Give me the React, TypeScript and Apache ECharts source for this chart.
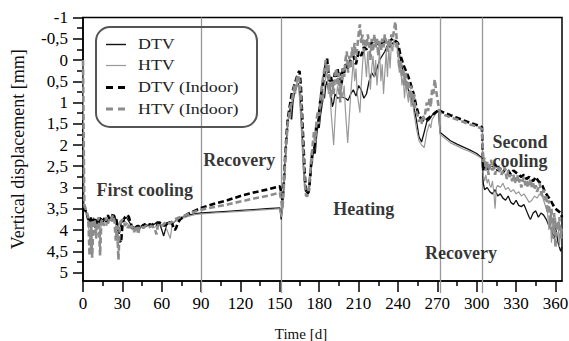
import React, { useEffect, useRef } from "react";
import * as echarts from "echarts";

const X_MIN = 0;
const X_MAX = 365;
const Y_MIN = -1;
const Y_MAX = 5.2;

const xMajorTicks = [0, 30, 60, 90, 120, 150, 180, 210, 240, 270, 300, 330, 360];
const xMinorTicks = [15, 45, 75, 105, 135, 165, 195, 225, 255, 285, 315, 345];
const yMajorTicks = [-1, -0.5, 0, 0.5, 1, 1.5, 2, 2.5, 3, 3.5, 4, 4.5, 5];
const yMinorTicks = [-0.75, -0.25, 0.25, 0.75, 1.25, 1.75, 2.25, 2.75, 3.25, 3.75, 4.25, 4.75];
const phaseBoundaries = [90, 151, 272, 304];

const seriesNames = ["DTV", "HTV", "DTV (Indoor)", "HTV (Indoor)"];

const phaseLabels = [
  { text: "First cooling", day: 47, value: 3.05 },
  { text: "Recovery", day: 119, value: 2.35 },
  { text: "Heating", day: 214, value: 3.5 },
  { text: "Recovery", day: 288, value: 4.53 },
  { text: "Second", day: 333, value: 1.93 },
  { text: "cooling", day: 333, value: 2.38 },
];

// DTV (solid black)
const dtv: [number, number][] = [
  [0, 3.45], [2, 3.55], [4, 3.7], [5, 3.85], [6, 3.7], [8, 3.8], [9, 3.95], [10, 3.75], [12, 3.85], [13, 3.7],
  [15, 3.8], [17, 3.75], [19, 3.85], [20, 3.7], [22, 3.8], [24, 3.65], [25, 3.75], [27, 3.95], [28, 4.05], [29, 3.85],
  [31, 3.75], [33, 3.7], [35, 3.8], [37, 3.9], [39, 3.95], [41, 3.9], [43, 3.97], [45, 3.9], [47, 3.85], [49, 3.9],
  [51, 3.85], [53, 3.88], [55, 3.85], [57, 3.8], [59, 3.9], [61.5, 4.14], [64, 3.85], [66, 3.8], [68, 3.85], [70, 3.8],
  [73, 3.72], [76, 3.7], [80, 3.65], [85, 3.62], [90, 3.6],
  [100, 3.58], [110, 3.56], [120, 3.54], [130, 3.52], [140, 3.5], [150, 3.48],
  [151, 3.75], [152, 3.5], [153, 3.0], [154, 2.4], [155, 1.9], [156, 1.5], [157, 1.3], [158, 1.1], [159, 1.4], [160, 1.0],
  [161, 0.8], [162, 0.7], [163, 0.6], [164, 0.55], [165, 0.7], [166, 1.2], [167, 1.8], [168, 2.5], [169, 3.0], [170, 3.1],
  [171, 3.15], [172, 3.1], [173, 2.9], [174, 2.5], [175, 2.3], [176, 2.0], [177, 2.2], [178, 1.8], [179, 1.5], [180, 1.6],
  [181, 1.3], [182, 1.1], [183, 0.8], [184, 0.9], [185, 0.6], [186, 0.5], [187, 0.7], [188, 0.6], [189, 0.8], [190, 1.1],
  [191, 1.0], [192, 0.8], [194, 0.9], [196, 0.88], [198, 0.88], [200, 0.9], [202, 0.95], [204, 0.8], [206, 0.7], [208, 0.85],
  [210, 0.6], [212, 0.7], [214, 0.9], [216, 0.8], [218, 0.5], [220, 0.3], [222, 0.4], [224, 0.2], [226, 0.0], [228, -0.1],
  [230, -0.2], [232, -0.35], [234, -0.3], [236, -0.4], [238, -0.45], [240, -0.3], [242, 0.0], [244, 0.3], [246, 0.5], [248, 0.7],
  [250, 0.9], [252, 1.1], [254, 1.4], [256, 1.8], [258, 1.93], [260, 1.7], [262, 1.45], [264, 1.4], [266, 1.3], [268, 1.25],
  [270, 1.2], [271, 1.24],
  [272, 1.7], [276, 1.8], [280, 1.9], [285, 1.98], [290, 2.05], [295, 2.12], [300, 2.2], [304, 2.3],
  [305, 2.9], [306, 3.05], [308, 3.0], [310, 3.1], [312, 3.15], [314, 3.05], [316, 3.2], [318, 3.15], [320, 3.25], [322, 3.3],
  [324, 3.2], [326, 3.35], [328, 3.4], [330, 3.3], [332, 3.42], [334, 3.45], [336, 3.4], [338, 3.55], [340, 3.7], [341, 3.75],
  [343, 3.6], [345, 3.55], [347, 3.7], [349, 3.6], [351, 3.65], [353, 3.75], [355, 3.9], [357, 4.0], [359, 4.2], [360, 3.9],
  [362, 4.3], [364, 4.5], [365, 4.4],
];

// HTV (solid grey)
const htv: [number, number][] = [
  [0, 0.0], [1, 3.5], [2, 3.6], [3, 3.7], [4, 3.8], [5, 4.2], [6, 4.5], [7, 3.8], [8, 3.7], [9, 3.9], [10, 4.2],
  [11, 3.8], [12, 3.75], [13, 4.3], [14, 3.8], [16, 3.7], [18, 3.9], [20, 3.75], [22, 3.8], [24, 3.7], [25, 3.9],
  [26, 4.3], [27, 4.0], [28, 3.8], [30, 3.75], [32, 3.8], [34, 3.85], [36, 3.95], [38, 4.0], [40, 3.95], [42, 4.0],
  [44, 3.9], [46, 3.95], [48, 3.9], [50, 3.85], [52, 3.9], [54, 3.95], [56, 3.9], [58, 3.85], [60, 3.9], [62, 3.85],
  [64, 4.0], [66.5, 4.2], [68, 3.85], [70, 3.8], [73, 3.75], [76, 3.72], [80, 3.68], [85, 3.64], [90, 3.62],
  [100, 3.6], [120, 3.56], [140, 3.52], [150, 3.5],
  [151, 3.7], [152, 3.55], [153, 3.1], [154, 2.6], [155, 2.0], [156, 1.6], [157, 1.2], [158, 1.4], [159, 1.0], [160, 0.9],
  [161, 0.7], [162, 0.8], [163, 0.5], [164, 0.6], [165, 0.9], [166, 1.4], [167, 2.0], [168, 2.6], [169, 3.0], [170, 3.05],
  [171, 3.1], [172, 3.05], [173, 2.8], [174, 2.3], [175, 2.4], [176, 1.9], [177, 2.1], [178, 1.6], [179, 1.4], [180, 1.5],
  [181, 1.0], [182, 0.8], [183, 1.0], [184, 0.6], [185, 0.4], [186, 0.3], [187, 0.8], [188, 0.5], [189, 1.2], [190, 1.6],
  [191, 2.0], [192, 1.4], [193, 0.9], [194, 0.6], [195, 0.8], [196, 0.4], [197, 0.7], [198, 0.9], [199, 0.6], [200, 1.2],
  [201.7, 1.95], [203, 1.3], [204, 0.8], [205, 0.4], [206, 0.0], [207, 0.5], [208, 0.2], [209, 0.8], [211, 1.24], [212, 0.6],
  [213, 0.1], [214, -0.3], [215, 0.0], [216, 0.4], [217, -0.2], [218, 0.3], [219, 0.7], [220, 0.2], [221, -0.1], [222, 0.4],
  [223, 0.0], [224, 0.6], [225, 0.2], [226, -0.2], [227, 0.5], [228, 0.1], [229, 0.8], [230, 0.3], [231, -0.2], [232, 0.4],
  [233, -0.3], [234, 0.2], [235, -0.4], [236, -0.2], [237, -0.5], [238, -0.3], [239, -0.4], [240, -0.1], [241, 0.3], [242, 0.1],
  [243, 0.6], [244, 0.4], [245, 0.9], [246, 0.5], [247, 0.8], [248, 1.0], [249, 0.7], [250, 1.1], [251, 0.9], [252, 1.2],
  [254, 1.6], [256, 1.9], [258, 2.0], [260, 2.06], [262, 1.7], [264, 1.5], [265, 1.6], [266, 1.4], [268, 1.3], [270, 1.2],
  [271, 1.15],
  [272, 1.75], [276, 1.85], [280, 1.95], [285, 2.02], [290, 2.1], [295, 2.16], [300, 2.24], [304, 2.32],
  [305, 2.7], [306, 2.85], [307, 2.7], [308, 2.9], [309, 2.8], [310, 2.95], [311, 3.0], [312, 2.85], [313, 3.1], [314, 3.5],
  [315, 3.0], [316, 2.95], [318, 3.0], [320, 2.9], [322, 3.05], [324, 3.0], [326, 3.1], [328, 3.05], [330, 3.15], [332, 3.1],
  [334, 3.2], [336, 3.15], [338, 3.25], [340, 3.35], [342, 3.3], [344, 3.2], [346, 3.25], [348, 3.15], [350, 3.2], [352, 3.4],
  [354, 3.6], [355, 4.0], [356, 3.7], [357, 4.3], [358, 3.8], [359, 4.1], [360, 3.7], [361, 4.0], [362, 3.8], [363, 4.4],
  [364, 3.9], [365, 4.2],
];

// DTV (Indoor) (dashed black)
const dtvIndoor: [number, number][] = [
  [0, 3.55], [1, 3.5], [2, 3.55], [3, 3.6], [4, 3.75], [5, 3.7], [6, 3.85], [7, 3.75], [8, 3.8], [9, 3.7],
  [10, 3.9], [11, 3.8], [12, 3.75], [13, 3.85], [14, 3.7], [15, 3.8], [16, 3.75], [17, 3.7], [18, 3.8], [19, 3.65],
  [20, 3.75], [21, 3.8], [22, 3.7], [23, 3.6], [24, 3.75], [25, 3.7], [26, 3.85], [27, 4.0], [28, 4.25], [29, 4.3],
  [30, 3.9], [31, 3.75], [32, 3.7], [33, 3.68], [34, 3.65], [35, 3.7], [36, 3.8], [37, 3.9], [38, 3.95], [39, 3.9],
  [40, 3.95], [42, 3.9], [44, 3.95], [46, 3.88], [48, 3.9], [50, 3.85], [52, 3.9], [54, 3.85], [56, 3.88], [58, 3.82],
  [60, 3.85], [62, 3.9], [64, 3.85], [66, 3.8], [68, 3.85], [69, 3.95], [70, 4.0], [71, 3.95], [72, 3.85], [74, 3.75],
  [76, 3.7], [80, 3.62], [85, 3.55], [90, 3.48],
  [100, 3.38], [110, 3.3], [120, 3.2], [130, 3.12], [140, 3.05], [150, 2.97],
  [151, 3.1], [152, 3.3], [153, 2.9], [154, 2.3], [155, 1.8], [156, 1.4], [157, 1.2], [158, 1.0], [159, 0.8], [160, 0.7],
  [161, 0.6], [162, 0.5], [163, 0.4], [164, 0.3], [165, 0.26], [166, 0.6], [167, 1.3], [168, 2.0], [169, 2.7], [170, 3.1],
  [171, 3.15], [172, 3.1], [173, 2.8], [174, 2.4], [175, 2.1], [176, 2.2], [177, 1.8], [178, 1.5], [179, 1.6], [180, 1.2],
  [181, 0.9], [182, 0.7], [183, 0.5], [184, 0.3], [185, 0.1], [186, -0.03], [187, 0.3], [188, 0.5], [189, 0.4], [190, 0.6],
  [191, 0.5], [192, 0.3], [193, 0.4], [194, 0.2], [195, 0.5], [196, 0.3], [197, 0.6], [198, 0.2], [199, 0.3], [200, 0.1],
  [202, 0.2], [204, 0.0], [206, -0.1], [208, 0.1], [210, -0.2], [212, -0.1], [214, -0.3], [216, -0.25], [218, -0.35], [220, -0.4],
  [222, -0.48], [224, -0.4], [226, -0.35], [228, -0.4], [230, -0.45], [232, -0.4], [234, -0.45], [236, -0.5], [238, -0.45], [240, -0.4],
  [242, -0.1], [243, 0.0], [244, 0.1], [246, 0.25], [248, 0.4], [250, 0.6], [252, 0.8], [254, 1.1], [256, 1.3], [258, 1.4],
  [260, 1.45], [262, 1.4], [264, 1.35], [266, 1.3], [268, 1.25], [270, 1.2], [271, 1.15],
  [272, 1.2], [276, 1.25], [280, 1.3], [285, 1.36], [290, 1.42], [295, 1.48], [300, 1.53], [304, 1.58],
  [305, 2.6], [306, 2.4], [308, 2.6], [310, 2.5], [312, 2.55], [314, 2.45], [316, 2.6], [318, 2.55], [320, 2.65], [322, 2.55],
  [324, 2.6], [326, 2.7], [328, 2.6], [330, 2.65], [332, 2.7], [334, 2.75], [336, 2.7], [338, 2.8], [340, 2.75], [341, 2.8],
  [343, 2.85], [345, 2.75], [347, 2.85], [349, 2.9], [350, 2.95], [352, 3.1], [354, 3.2], [356, 3.28], [358, 3.4], [360, 3.5],
  [362, 3.55], [364, 3.6], [365, 3.7],
];

// HTV (Indoor) (dashed grey)
const htvIndoor: [number, number][] = [
  [0, 0.0], [1, 3.4], [2, 3.5], [3, 3.6], [4, 3.7], [5, 4.6], [6, 3.8], [7, 4.65], [8, 3.75], [9, 3.8],
  [10, 4.2], [11, 3.8], [12, 3.7], [13, 4.6], [14, 3.8], [15, 3.75], [16, 3.9], [17, 3.8], [18, 3.7], [19, 3.85],
  [20, 3.75], [21, 3.8], [22, 3.7], [23, 3.65], [24, 3.8], [25, 4.25], [26, 3.9], [27, 4.7], [28, 3.9], [29, 3.8],
  [30, 3.75], [31, 3.8], [32, 3.9], [33, 3.85], [34, 3.95], [35, 3.9], [36, 4.0], [37, 3.9], [38, 3.95], [39, 4.05],
  [40, 3.95], [41, 3.9], [42, 4.1], [43, 3.95], [44, 3.9], [46, 3.95], [48, 3.9], [50, 3.95], [52, 3.9], [54, 3.95],
  [55, 4.0], [56, 4.1], [57, 3.9], [58, 3.85], [60, 3.9], [62, 3.85], [64, 3.8], [66, 3.85], [68, 3.8], [70, 3.75],
  [72, 3.72], [74, 3.7], [76, 3.68], [80, 3.63], [85, 3.57], [90, 3.52],
  [100, 3.46], [110, 3.4], [120, 3.33], [130, 3.26], [140, 3.2], [150, 3.12],
  [151, 3.3], [152, 3.5], [153, 3.0], [154, 2.4], [155, 1.9], [156, 1.5], [157, 1.3], [158, 1.1], [159, 1.0], [160, 0.8],
  [161, 0.6], [162, 0.7], [163, 0.45], [164, 0.35], [165, 0.5], [166, 0.9], [167, 1.6], [168, 2.3], [169, 2.9], [170, 3.2],
  [171, 3.2], [172, 3.05], [173, 2.7], [174, 2.3], [175, 2.0], [176, 1.7], [177, 1.9], [178, 1.4], [179, 1.2], [180, 1.3],
  [181, 0.9], [182, 0.6], [183, 0.4], [184, 0.2], [185, 0.0], [186, 0.3], [187, 0.1], [188, 0.6], [189, 0.9], [190, 0.5],
  [191, 0.8], [192, 0.4], [193, 0.2], [194, 0.6], [195, 0.3], [196, 1.0], [197, 0.5], [198, 0.2], [199, 0.4], [200, 0.0],
  [201, -0.2], [202, 0.3], [203, -0.1], [204, 0.2], [205, -0.3], [206, -0.1], [207, -0.4], [208, 0.0], [209, -0.3], [210, -0.6],
  [211, -0.84], [212, -0.4], [213, -0.6], [214, -0.2], [215, -0.5], [216, -0.3], [217, -0.6], [218, -0.4], [219, 0.0], [220, -0.5],
  [221, -0.2], [222, -0.6], [223, -0.3], [224, -0.5], [225, -0.1], [226, -0.45], [227, -0.2], [228, -0.5], [229, -0.3], [230, -0.6],
  [231, -0.4], [232, -0.2], [233, -0.5], [234, -0.3], [235, -0.6], [236, -0.5], [237, -0.7], [238, -0.9], [239, -0.5], [240, -0.2],
  [241, 0.2], [242, 0.0], [243, 0.4], [244, 0.2], [245, 0.6], [246, 0.3], [247, 0.7], [248, 0.5], [249, 0.9], [250, 0.6],
  [251, 1.0], [252, 0.8], [253, 1.1], [254, 1.2], [255, 1.3], [256, 1.45], [257, 1.4], [258, 1.5], [259, 1.3], [260, 1.4],
  [261, 1.2], [262, 1.0], [263, 1.2], [264, 0.9], [265, 1.1], [266, 0.7], [267, 0.8], [268, 0.46], [269, 0.7], [270, 0.9],
  [271, 1.1], [272, 1.25],
  [276, 1.3], [280, 1.35], [285, 1.4], [290, 1.46], [295, 1.52], [300, 1.56], [304, 1.62],
  [305, 2.4], [306, 2.3], [307, 2.6], [308, 2.4], [309, 2.7], [310, 2.5], [311, 2.35], [312, 2.6], [313, 2.45], [314, 2.7],
  [315, 2.55], [316, 2.5], [317, 2.65], [318, 2.55], [319, 2.7], [320, 2.6], [321, 2.5], [322, 2.65], [323, 2.8], [324, 2.6],
  [325, 2.75], [326, 2.7], [327, 2.85], [328, 2.7], [329, 2.9], [330, 2.8], [331, 2.7], [332, 2.9], [333, 2.8], [334, 3.0],
  [335, 2.85], [336, 2.75], [337, 2.95], [338, 2.85], [339, 3.0], [340, 2.9], [341, 2.8], [342, 3.0], [343, 2.9], [344, 3.05],
  [345, 2.95], [346, 3.1], [347, 3.0], [348, 2.9], [349, 3.1], [350, 3.2], [351, 3.05], [352, 3.3], [353, 3.2], [354, 3.6],
  [355, 3.3], [356, 3.9], [357, 3.5], [358, 4.2], [359, 3.6], [360, 4.4], [361, 3.8], [362, 4.0], [363, 3.7], [364, 4.2],
  [365, 3.9],
];

const SERIF = "Liberation Serif";
const fmt = (v: number) => String(v).replace(".", ",");

export default function App() {
  const ref = useRef<HTMLDivElement>(null);

  useEffect(() => {
    if (!ref.current) return;
    const chart = echarts.init(ref.current, undefined, { renderer: "svg" });

    const legendItems = [
      { name: seriesNames[0], color: "#111", width: 1.4, dash: null as null | number[] },
      { name: seriesNames[1], color: "#999", width: 1.2, dash: null },
      { name: seriesNames[2], color: "#000", width: 3, dash: [7, 5] },
      { name: seriesNames[3], color: "#8c8c8c", width: 3, dash: [7, 5] },
    ];
    const legendY = [44.5, 65.5, 87.5, 109];

    const graphics: any[] = [
      {
        type: "rect",
        shape: { x: 96, y: 27, width: 161, height: 100, r: 14 },
        style: { fill: "none", stroke: "#555", lineWidth: 2 },
        z: 10,
      },
    ];
    legendItems.forEach((it, i) => {
      graphics.push({
        type: "line",
        shape: { x1: 106, y1: legendY[i], x2: 126, y2: legendY[i] },
        style: { stroke: it.color, lineWidth: it.width, lineDash: it.dash || undefined },
        z: 10,
      });
      graphics.push({
        type: "text",
        x: 138,
        y: legendY[i],
        scaleX: 1.28,
        style: {
          text: it.name,
          fontFamily: SERIF,
          fontSize: 14,
          fill: "#222",
          align: "left",
          verticalAlign: "middle",
        },
        z: 10,
      });
    });

    graphics.push({
      type: "text",
      x: 301,
      y: 334,
      style: {
        text: "Time [d]",
        fontFamily: SERIF,
        fontSize: 15,
        fill: "#111",
        align: "center",
        verticalAlign: "middle",
      },
    });

    const xCommon = { type: "value", min: X_MIN, max: X_MAX, position: "bottom", splitLine: { show: false } };
    const yCommon = { type: "value", min: Y_MIN, max: Y_MAX, inverse: true, position: "left", splitLine: { show: false } };

    const option: any = {
      animation: false,
      backgroundColor: "#fff",
      textStyle: { fontFamily: SERIF },
      grid: {
        left: 83,
        top: 17.5,
        right: 7,
        bottom: 60,
        containLabel: false,
        outerBoundsMode: "none",
        show: true,
        borderColor: "#000",
        borderWidth: 1.5,
      },
      xAxis: [
        {
          ...xCommon,
          axisLine: { show: true, onZero: false, lineStyle: { color: "#000", width: 1.5 } },
          axisTick: { show: true, length: 11, inside: false, customValues: xMajorTicks, lineStyle: { color: "#000", width: 1.5 } },
          axisLabel: { show: true, customValues: xMajorTicks, margin: 14, fontFamily: SERIF, fontSize: 17, color: "#000" },
        },
        {
          ...xCommon,
          axisLine: { show: false, onZero: false },
          axisTick: { show: true, length: 5, customValues: xMinorTicks, lineStyle: { color: "#000", width: 1.5 } },
          axisLabel: { show: false },
        },
        {
          ...xCommon,
          axisLine: { show: false, onZero: false },
          axisTick: { show: true, length: 12, customValues: phaseBoundaries, lineStyle: { color: "#999", width: 1.3 } },
          axisLabel: { show: false },
        },
      ],
      yAxis: [
        {
          ...yCommon,
          name: "Vertical displacement [mm]",
          nameLocation: "middle",
          nameGap: 56,
          nameTextStyle: { fontFamily: SERIF, fontSize: 18, color: "#111" },
          axisLine: { show: true, onZero: false, lineStyle: { color: "#000", width: 1.5 } },
          axisTick: { show: true, length: 10, customValues: yMajorTicks, lineStyle: { color: "#000", width: 1.5 } },
          axisLabel: {
            show: true,
            customValues: yMajorTicks,
            margin: 15,
            fontFamily: SERIF,
            fontSize: 17,
            color: "#000",
            formatter: (v: number) => fmt(v),
          },
        },
        {
          ...yCommon,
          axisLine: { show: false, onZero: false },
          axisTick: { show: true, length: 6, customValues: yMinorTicks, lineStyle: { color: "#000", width: 1.5 } },
          axisLabel: { show: false },
        },
      ],
      series: [
        {
          name: seriesNames[0],
          type: "line",
          data: dtv,
          symbol: "none",
          lineStyle: { color: "#111", width: 1.3 },
          itemStyle: { color: "#111" },
          z: 3,
          markLine: {
            silent: true,
            symbol: "none",
            label: { show: false },
            lineStyle: { color: "#999", width: 1.3, type: "solid" },
            data: phaseBoundaries.map((d) => ({ xAxis: d })),
            z: 1,
          },
        },
        {
          name: seriesNames[1],
          type: "line",
          data: htv,
          symbol: "none",
          lineStyle: { color: "#999", width: 1.2 },
          itemStyle: { color: "#999" },
          z: 4,
        },
        {
          name: seriesNames[2],
          type: "line",
          data: dtvIndoor,
          symbol: "none",
          lineStyle: { color: "#000", width: 2.6, type: [6, 3] },
          itemStyle: { color: "#000" },
          z: 5,
        },
        {
          name: seriesNames[3],
          type: "line",
          data: htvIndoor,
          symbol: "none",
          lineStyle: { color: "#8c8c8c", width: 2.6, type: [6, 3] },
          itemStyle: { color: "#8c8c8c" },
          z: 6,
        },
        {
          name: "phase labels",
          type: "scatter",
          data: phaseLabels.map((p) => [p.day, p.value, p.text]),
          symbolSize: 0,
          silent: true,
          z: 8,
          label: {
            show: true,
            position: "inside",
            formatter: (p: any) => p.data[2],
            fontFamily: SERIF,
            fontWeight: "bold",
            fontSize: 18,
            color: "#000",
          },
        },
      ],
      graphic: graphics,
    };

    chart.setOption(option);
    return () => chart.dispose();
  }, []);

  return (
    <div
      ref={ref}
      style={{ position: "fixed", left: 0, top: 0, width: 569, height: 341, background: "#fff" }}
    />
  );
}
